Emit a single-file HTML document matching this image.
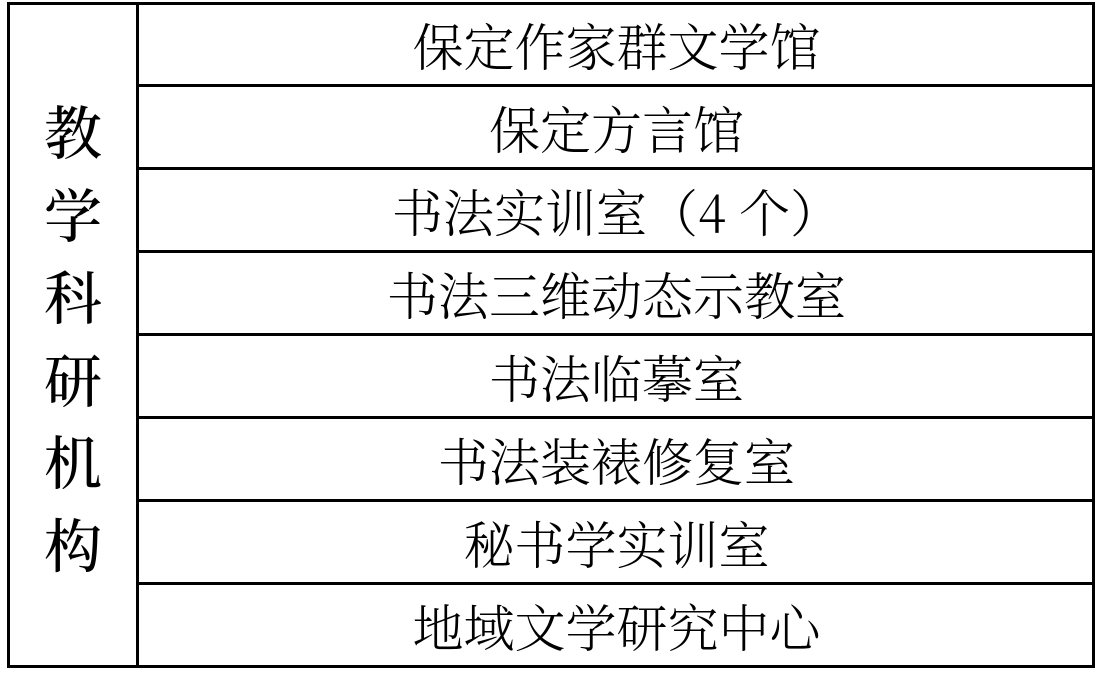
<!DOCTYPE html>
<html><head><meta charset="utf-8"><style>
body{margin:0;width:1102px;height:674px;background:#fff;position:relative;overflow:hidden}
.l{position:absolute;background:#000}
.t{position:absolute;left:139px;width:955px;text-align:center;font-family:"Noto Serif CJK SC","Liberation Serif",serif;font-weight:300;font-size:51px;line-height:83px;color:#000}
.v{position:absolute;left:8px;width:130px;top:88px;text-align:center;font-family:"Noto Serif CJK SC","Liberation Serif",serif;font-weight:500;font-size:58px;line-height:82.5px}
</style></head><body>
<div class="l" style="left:7px;top:2px;width:3px;height:666px"></div>
<div class="l" style="left:1092px;top:2px;width:3px;height:666px"></div>
<div class="l" style="left:7px;top:2px;width:1088px;height:3px"></div>
<div class="l" style="left:7px;top:665px;width:1088px;height:3px"></div>
<div class="l" style="left:136px;top:2px;width:3px;height:666px"></div>
<div class="l" style="left:136px;top:84px;width:959px;height:3px"></div>
<div class="l" style="left:136px;top:167px;width:959px;height:3px"></div>
<div class="l" style="left:136px;top:250px;width:959px;height:3px"></div>
<div class="l" style="left:136px;top:333px;width:959px;height:3px"></div>
<div class="l" style="left:136px;top:416px;width:959px;height:3px"></div>
<div class="l" style="left:136px;top:499px;width:959px;height:3px"></div>
<div class="l" style="left:136px;top:582px;width:959px;height:3px"></div>
<div class="t" style="top:3px">保定作家群文学馆</div>
<div class="t" style="top:86px">保定方言馆</div>
<div class="t" style="top:169px">书法实训室（4 个）</div>
<div class="t" style="top:252px">书法三维动态示教室</div>
<div class="t" style="top:335px">书法临摹室</div>
<div class="t" style="top:418px">书法装裱修复室</div>
<div class="t" style="top:501px">秘书学实训室</div>
<div class="t" style="top:584px">地域文学研究中心</div>
<div class="v">教<br>学<br>科<br>研<br>机<br>构</div>
</body></html>
